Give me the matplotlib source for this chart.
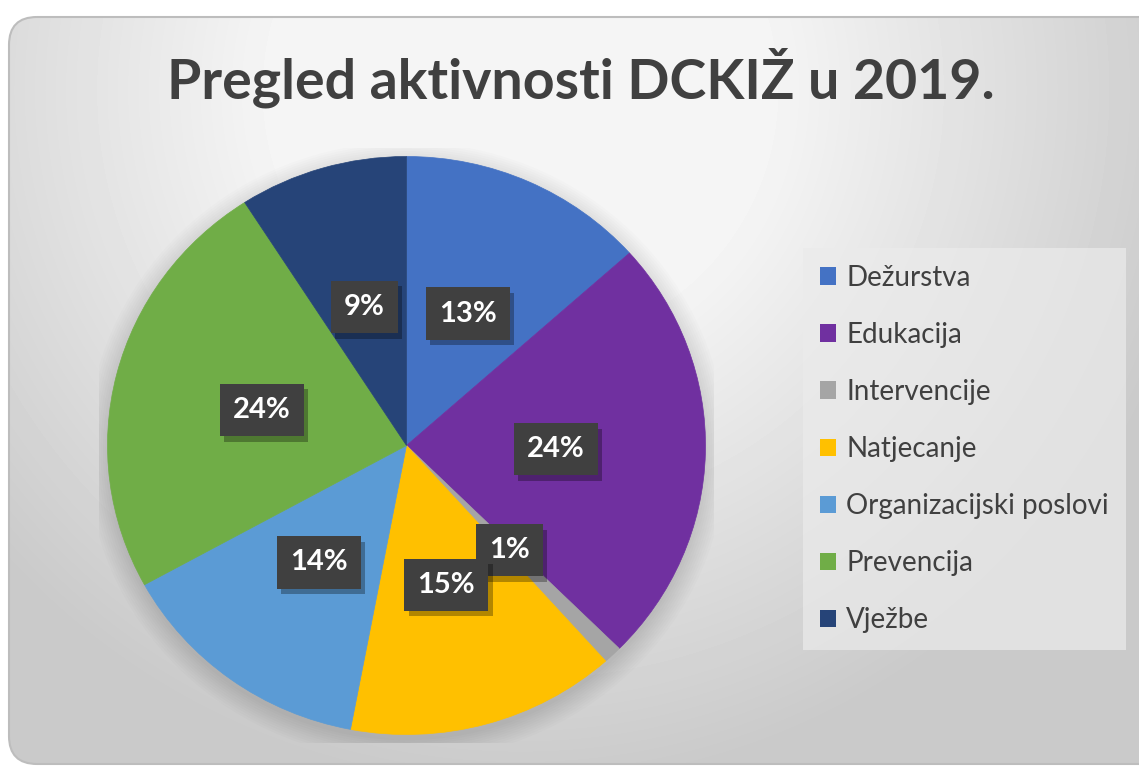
import numpy as np
import matplotlib.pyplot as plt
import matplotlib.patheffects as pe
from matplotlib.patches import FancyBboxPatch, Patch, Ellipse

plt.rcParams['font.family'] = ['Lato', 'DejaVu Sans']

# Data
categories = ['Dežurstva', 'Edukacija', 'Intervencije', 'Natjecanje',
              'Organizacijski poslovi', 'Prevencija', 'Vježbe']
shares = [13.4, 24.0, 1.0, 14.6, 14.0, 23.9, 9.1]
colors = ['#4472C4', '#7030A0', '#A5A5A5', '#FFC000',
          '#5B9BD5', '#70AD47', '#264478']
title = 'Pregled aktivnosti DCKIŽ u 2019.'

W, H = 1139, 767
fig = plt.figure(figsize=(W / 100, H / 100), dpi=100)
fig.patch.set_facecolor('white')

# Background: rounded chart area with a soft grey radial gradient
bg = fig.add_axes([0, 0, 1, 1])
bg.set_xlim(0, W)
bg.set_ylim(H, 0)
bg.axis('off')
yy, xx = np.mgrid[0:H, 0:W]
d = np.hypot(xx - 520, yy - 90)
shade = 0.96 - 0.17 * np.clip((d - 250) / 450, 0, 1)
img = bg.imshow(shade, cmap='gray', vmin=0, vmax=1, extent=(0, W, H, 0),
                zorder=0, interpolation='bilinear')
frame = FancyBboxPatch((9, 17), W + 40, H - 20,
                       boxstyle='round,pad=0,rounding_size=28',
                       facecolor='none', edgecolor='#bdbdbd', lw=1.5, zorder=1)
bg.add_patch(frame)
img.set_clip_path(frame)

fig.text(581 / W, 1 - 78 / H, title, ha='center', va='center',
         fontsize=40, fontweight='bold', color='#404040')

# Pie (slightly wider than tall, like the original)
cx, cy, rx, ry = 406.5, 445.5, 299, 289
m = 1.03
ax = fig.add_axes([(cx - rx * m) / W, 1 - (cy + ry * m) / H,
                   2 * rx * m / W, 2 * ry * m / H])
ax.patch.set_alpha(0)

# soft shadow under the pie
for s in np.linspace(0.0, 0.07, 10):
    ax.add_patch(Ellipse((0, -0.02), 2 * (1 + s), 2 * (1 + s),
                         facecolor='black', alpha=0.012, lw=0, zorder=0))

wedges, texts, autotexts = ax.pie(
    shares, colors=colors, startangle=90, counterclock=False,
    autopct='%.0f%%', pctdistance=0.5,
    wedgeprops=dict(linewidth=0.5))
for w, c in zip(wedges, colors):
    w.set_edgecolor(c)
    w.set_zorder(2)

for t in autotexts:
    t.set_color('white')
    t.set_fontsize(21)
    t.set_fontweight('bold')
    t.set_zorder(5)
    t.set_bbox(dict(boxstyle='square,pad=0.45', facecolor='#404040',
                    edgecolor='none'))
    t.get_bbox_patch().set_path_effects([
        pe.SimplePatchShadow(offset=(3, -4), shadow_rgbFace='black', alpha=0.3),
        pe.Normal()])

ax.set_xlim(-m, m)
ax.set_ylim(-m, m)
ax.set_aspect('auto')
ax.axis('off')

# Legend
handles = [Patch(facecolor=c, edgecolor='none') for c in colors]
leg = fig.legend(handles, categories, loc='upper left',
                 bbox_to_anchor=(803 / W, 1 - 248 / H),
                 fontsize=20, labelspacing=1.12, handlelength=0.58,
                 handleheight=0.58, handletextpad=0.38, borderpad=0.6,
                 borderaxespad=0, frameon=True, fancybox=False)
leg.get_frame().set_facecolor('#ebebeb')
leg.get_frame().set_alpha(0.7)
leg.get_frame().set_edgecolor('none')
for t in leg.get_texts():
    t.set_color('#404040')

fig.savefig('out.png', dpi=100)
